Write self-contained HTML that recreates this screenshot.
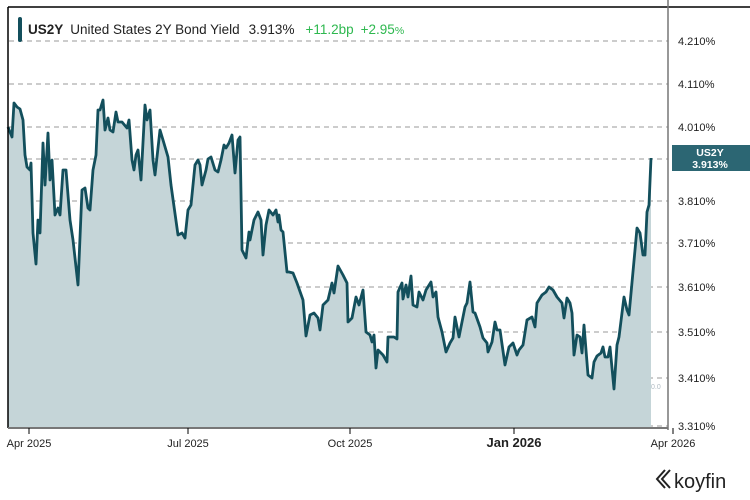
<!DOCTYPE html>
<html><head><meta charset="utf-8"><style>
body{margin:0;background:#fff;}
svg{display:block;font-family:"Liberation Sans",sans-serif;}
</style></head><body>
<svg width="750" height="500" viewBox="0 0 750 500">
<rect width="750" height="500" fill="#fff"/>
<g stroke="#9a9a9a" stroke-width="1" stroke-dasharray="5,4">
<line x1="9" y1="41" x2="668" y2="41"/><line x1="9" y1="84" x2="668" y2="84"/>
<line x1="9" y1="127" x2="668" y2="127"/><line x1="9" y1="159" x2="668" y2="159"/>
<line x1="9" y1="201" x2="668" y2="201"/><line x1="9" y1="243" x2="668" y2="243"/>
<line x1="9" y1="287" x2="668" y2="287"/><line x1="9" y1="332" x2="668" y2="332"/>
<line x1="9" y1="378" x2="668" y2="378"/><line x1="9" y1="426" x2="668" y2="426"/>
</g>
<polygon fill="#c5d5d8" points="8,428 8,127 12,137 14,103 17,107 20,109 23,120 25,155 27,167 30,170 31,163 33,233 36,264 38,220 40,233 43,143 45,185 48,133 50,180 52,160 55,215 58,208 60,215 63,170 66,170 70,220 73,240 78,285 82,190 85,188 88,208 90,210 93,170 96,155 98,110 100,110 103,100 105,130 108,118 110,130 113,132 116,112 118,122 122,122 127,128 129,120 132,160 134,170 136,155 138,150 141,180 145,105 147,120 150,110 153,160 155,175 160,130 163,140 168,157 171,185 178,235 182,233 185,238 188,210 191,205 195,165 198,160 200,165 202,185 206,170 208,159 211,157 215,170 218,172 221,160 224,145 226,148 229,143 232,135 235,173 238,140 240,137 242,250 246,258 249,232 250,240 254,220 258,212 261,220 263,255 266,225 269,210 273,215 276,210 278,222 279,215 281,230 283,232 287,272 289,272 293,273 297,283 303,300 306,336 310,315 314,313 318,318 320,330 323,305 328,300 332,283 334,293 338,266 343,275 347,283 348,322 352,318 356,297 359,305 363,290 366,332 370,335 372,342 374,335 376,368 378,350 383,355 387,362 388,337 394,337 397,339 398,292 402,283 403,299 406,285 408,297 411,276 413,305 417,307 419,292 423,300 426,290 431,282 433,297 436,292 438,317 442,332 446,352 450,343 453,338 455,317 459,337 465,307 467,303 470,282 473,312 475,313 480,327 483,338 487,343 488,352 492,342 495,322 497,330 500,330 505,365 509,347 513,343 517,355 519,350 523,345 527,320 532,317 535,327 537,303 542,295 546,292 549,287 553,290 557,297 562,303 564,318 567,298 570,303 572,313 574,355 577,335 580,337 582,353 584,325 588,375 592,378 594,362 597,356 601,353 603,347 605,357 608,357 610,347 614,389 617,345 619,337 624,297 627,310 629,315 635,250 637,228 640,233 643,255 645,255 647,212 649,205 651,158 651,428"/>
<polyline fill="none" stroke="#134f5c" stroke-width="2.8" stroke-linejoin="round" points="8,127 12,137 14,103 17,107 20,109 23,120 25,155 27,167 30,170 31,163 33,233 36,264 38,220 40,233 43,143 45,185 48,133 50,180 52,160 55,215 58,208 60,215 63,170 66,170 70,220 73,240 78,285 82,190 85,188 88,208 90,210 93,170 96,155 98,110 100,110 103,100 105,130 108,118 110,130 113,132 116,112 118,122 122,122 127,128 129,120 132,160 134,170 136,155 138,150 141,180 145,105 147,120 150,110 153,160 155,175 160,130 163,140 168,157 171,185 178,235 182,233 185,238 188,210 191,205 195,165 198,160 200,165 202,185 206,170 208,159 211,157 215,170 218,172 221,160 224,145 226,148 229,143 232,135 235,173 238,140 240,137 242,250 246,258 249,232 250,240 254,220 258,212 261,220 263,255 266,225 269,210 273,215 276,210 278,222 279,215 281,230 283,232 287,272 289,272 293,273 297,283 303,300 306,336 310,315 314,313 318,318 320,330 323,305 328,300 332,283 334,293 338,266 343,275 347,283 348,322 352,318 356,297 359,305 363,290 366,332 370,335 372,342 374,335 376,368 378,350 383,355 387,362 388,337 394,337 397,339 398,292 402,283 403,299 406,285 408,297 411,276 413,305 417,307 419,292 423,300 426,290 431,282 433,297 436,292 438,317 442,332 446,352 450,343 453,338 455,317 459,337 465,307 467,303 470,282 473,312 475,313 480,327 483,338 487,343 488,352 492,342 495,322 497,330 500,330 505,365 509,347 513,343 517,355 519,350 523,345 527,320 532,317 535,327 537,303 542,295 546,292 549,287 553,290 557,297 562,303 564,318 567,298 570,303 572,313 574,355 577,335 580,337 582,353 584,325 588,375 592,378 594,362 597,356 601,353 603,347 605,357 608,357 610,347 614,389 617,345 619,337 624,297 627,310 629,315 635,250 637,228 640,233 643,255 645,255 647,212 649,205 651,158"/>
<text x="651" y="389" font-size="7" fill="#b0bcc4">0.0</text>
<line x1="8" y1="7" x2="750" y2="7" stroke="#000" stroke-width="1.5"/>
<line x1="8" y1="7" x2="8" y2="428" stroke="#000" stroke-width="1.5"/>
<line x1="8" y1="428" x2="668" y2="428" stroke="#777" stroke-width="2"/>
<line x1="668" y1="0" x2="668" y2="430" stroke="#777" stroke-width="1.5"/>
<g stroke="#000" stroke-width="1"><line x1="29" y1="428" x2="29" y2="434"/><line x1="188" y1="428" x2="188" y2="434"/><line x1="350" y1="428" x2="350" y2="434"/><line x1="514" y1="428" x2="514" y2="434"/><line x1="673" y1="428" x2="673" y2="434"/></g>
<g font-size="11" fill="#222">
<text x="678" y="45">4.210%</text><text x="678" y="88">4.110%</text><text x="678" y="131">4.010%</text>
<text x="678" y="205">3.810%</text><text x="678" y="247">3.710%</text><text x="678" y="291">3.610%</text>
<text x="678" y="336">3.510%</text><text x="678" y="382">3.410%</text><text x="678" y="430">3.310%</text>
</g>
<rect x="672" y="145" width="78" height="26" fill="#2c6673"/>
<text x="710" y="156" font-size="10.5" font-weight="bold" fill="#fff" text-anchor="middle">US2Y</text>
<text x="710" y="168" font-size="10.5" font-weight="bold" fill="#fff" text-anchor="middle">3.913%</text>
<g font-size="11" fill="#222" text-anchor="middle">
<text x="29" y="447">Apr 2025</text><text x="188" y="447">Jul 2025</text><text x="350" y="447">Oct 2025</text>
<text x="514" y="447" font-size="13" font-weight="bold">Jan 2026</text><text x="673" y="447">Apr 2026</text>
</g>
<rect x="18" y="17" width="4" height="25" rx="2" fill="#134f5c"/>
<text x="28" y="34" font-size="13.5" fill="#222"><tspan font-weight="bold">US2Y</tspan><tspan dx="7">United States 2Y Bond Yield</tspan><tspan dx="9">3.913%</tspan><tspan dx="11" fill="#2eb84f">+11.2bp</tspan><tspan dx="7" fill="#2eb84f">+2.95</tspan><tspan fill="#2eb84f" font-size="10.5">%</tspan></text>
<path d="M665,470 l-8,9 l8,9 M670,470 l-8,9 l8,9" stroke="#222" stroke-width="2" fill="none"/>
<text x="674" y="488" font-size="20" fill="#222">koyfin</text>
</svg>
</body></html>
